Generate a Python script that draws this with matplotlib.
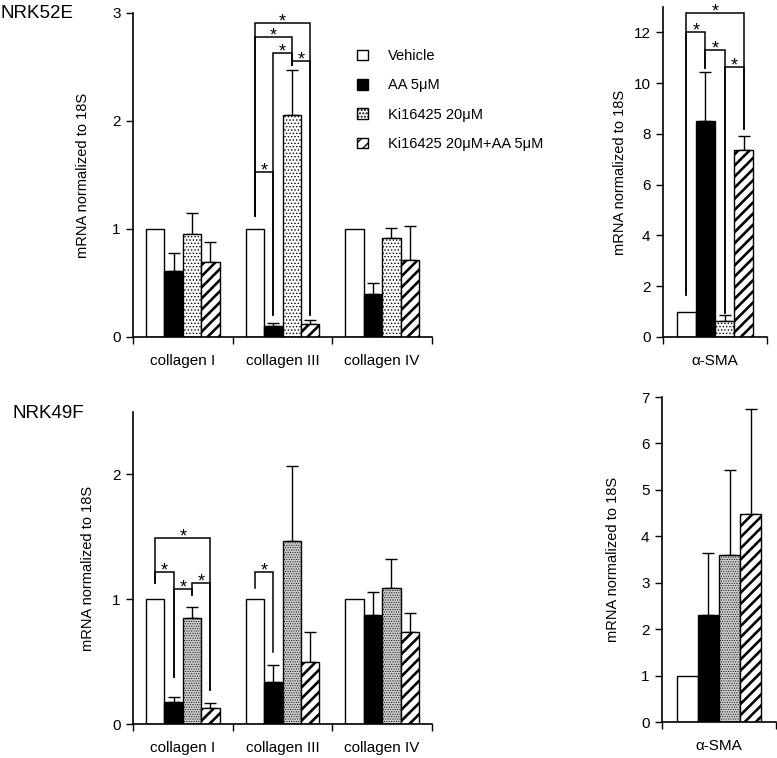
import matplotlib
matplotlib.use('Agg')
import matplotlib.pyplot as plt
import numpy as np
from matplotlib.patches import Patch

plt.rcParams['font.family'] = ['Liberation Sans', 'DejaVu Sans']

# ---------------- data ----------------
treatments = ['Vehicle', 'AA 5μM', 'Ki16425 20μM', 'Ki16425 20μM+AA 5μM']
collagen_cats = ['collagen I', 'collagen III', 'collagen IV']
sma_cats = ['α-SMA']

# NRK52E collagen: rows = treatments, cols = collagen I, III, IV
nrk52e_col_mean = [[1.00, 1.00, 1.00],
                   [0.61, 0.10, 0.40],
                   [0.95, 2.06, 0.92],
                   [0.69, 0.12, 0.71]]
nrk52e_col_err = [[0.00, 0.00, 0.00],
                  [0.17, 0.03, 0.10],
                  [0.20, 0.41, 0.09],
                  [0.19, 0.04, 0.32]]
# NRK52E alpha-SMA
nrk52e_sma_mean = [[1.00], [8.50], [0.65], [7.35]]
nrk52e_sma_err = [[0.00], [1.95], [0.20], [0.55]]

# NRK49F collagen
nrk49f_col_mean = [[1.00, 1.00, 1.00],
                   [0.18, 0.34, 0.87],
                   [0.85, 1.47, 1.09],
                   [0.13, 0.50, 0.74]]
nrk49f_col_err = [[0.00, 0.00, 0.00],
                  [0.04, 0.13, 0.19],
                  [0.09, 0.60, 0.23],
                  [0.04, 0.24, 0.15]]
# NRK49F alpha-SMA
nrk49f_sma_mean = [[1.00], [2.30], [3.60], [4.48]]
nrk49f_sma_err = [[0.00], [1.35], [1.83], [2.27]]

# significance brackets: (category, bar_i, bar_j, height, leg_i_bottom, leg_j_bottom)
sig_52e_col = [(1, 0, 1, 1.53, 1.12, 0.20),
               (1, 0, 2, 2.78, 1.12, 2.52),
               (1, 0, 3, 2.91, 1.12, 0.20),
               (1, 1, 2, 2.63, 0.20, 2.52),
               (1, 2, 3, 2.56, 2.52, 0.20)]
sig_52e_sma = [(0, 0, 3, 12.76, 1.65, 8.20),
               (0, 0, 1, 12.00, 1.65, 10.60),
               (0, 1, 2, 11.30, 10.60, 0.95),
               (0, 2, 3, 10.65, 0.95, 8.20)]
sig_49f_col = [(0, 0, 3, 1.49, 1.13, 0.27),
               (0, 0, 1, 1.22, 1.13, 0.38),
               (0, 1, 2, 1.08, 0.38, 1.03),
               (0, 2, 3, 1.13, 1.03, 0.27),
               (1, 0, 1, 1.22, 1.09, 0.58)]

# ---------------- styling ----------------
BW = 0.185
FS = 11


def styles(bottom):
    ki_face = '#cdcdcd' if bottom else 'white'
    ki_hatch = '.......' if bottom else '.....'
    ki_lw = 0.45 if bottom else 0.6
    return [dict(facecolor='white', hatch=None, hlw=1.0),
            dict(facecolor='black', hatch=None, hlw=1.0),
            dict(facecolor=ki_face, hatch=ki_hatch, hlw=ki_lw),
            dict(facecolor='white', hatch='///', hlw=1.9)]


def make_bar(ax, x, m, s):
    with plt.rc_context({'hatch.linewidth': s['hlw']}):
        bars = ax.bar(x, m, BW, color=s['facecolor'], edgecolor='black',
                      linewidth=1.0, hatch=s['hatch'], zorder=2)
    for b in bars:
        if hasattr(b, 'set_hatch_linewidth'):
            b.set_hatch_linewidth(s['hlw'])
    return bars


def draw_panel(ax, cats, means, errs, ylim, yticks, bottom, sigs, label_x):
    n = len(cats)
    centers = np.arange(n) + 0.5
    st = styles(bottom)
    for i in range(4):
        x = centers + (i - 1.5) * BW
        m = np.array(means[i], dtype=float)
        e = np.array(errs[i], dtype=float)
        make_bar(ax, x, m, st[i])
        mask = e > 0
        if mask.any():
            ax.errorbar(x[mask], m[mask], yerr=[np.zeros(mask.sum()), e[mask]],
                        fmt='none', ecolor='black', elinewidth=1.0,
                        capsize=4, capthick=1.0, zorder=1)
    for (c, bi, bj, h, li, lj) in sigs:
        xi = c + 0.5 + (bi - 1.5) * BW
        xj = c + 0.5 + (bj - 1.5) * BW
        ax.plot([xi, xi, xj, xj], [li, h, h, lj], color='black', lw=1.1,
                zorder=3, clip_on=False, solid_joinstyle='miter')
        ax.annotate('*', xy=((xi + xj) / 2, h), xytext=(0, -2.5),
                    textcoords='offset points', ha='center', va='baseline',
                    fontsize=13, annotation_clip=False)
    ax.set_xlim(0, n)
    ax.set_ylim(*ylim)
    ax.set_yticks(yticks)
    ax.set_yticklabels([str(t) for t in yticks], fontsize=FS)
    ax.set_xticks(np.arange(n + 1))
    ax.set_xticklabels([])
    ax.set_xticks(centers, minor=True)
    ax.set_xticklabels(cats, minor=True, fontsize=FS)
    ax.tick_params(axis='x', which='minor', length=0, pad=12)
    ax.tick_params(axis='both', which='major', direction='out', length=5,
                   width=1.0, color='black')
    ax.tick_params(axis='y', pad=4)
    for s in ['top', 'right']:
        ax.spines[s].set_visible(False)
    for s in ['left', 'bottom']:
        ax.spines[s].set_linewidth(1.2)
    ax.set_ylabel('mRNA normalized to 18S', fontsize=10.5)
    ax.yaxis.set_label_coords(label_x, 0.5)


fig = plt.figure(figsize=(7.77, 7.58), dpi=100)
W, H = 777.0, 758.0


def add_axes(x0, x1, ytop, ybot):
    return fig.add_axes([x0 / W, 1 - ybot / H, (x1 - x0) / W, (ybot - ytop) / H])


ax1 = add_axes(133, 432, 13, 337)
ax2 = add_axes(663, 767, 7, 337)
ax3 = add_axes(133, 432, 412, 724)
ax4 = add_axes(662, 776, 397, 722)

draw_panel(ax1, collagen_cats, nrk52e_col_mean, nrk52e_col_err, (0, 3), [0, 1, 2, 3],
           False, sig_52e_col, -0.144)
draw_panel(ax2, sma_cats, nrk52e_sma_mean, nrk52e_sma_err, (0, 13), [0, 2, 4, 6, 8, 10, 12],
           False, sig_52e_sma, -0.346)
draw_panel(ax3, collagen_cats, nrk49f_col_mean, nrk49f_col_err, (0, 2.5), [0, 1, 2],
           True, sig_49f_col, -0.127)
draw_panel(ax4, sma_cats, nrk49f_sma_mean, nrk49f_sma_err, (0, 7), [0, 1, 2, 3, 4, 5, 6, 7],
           True, [], -0.368)

# legend
handles = []
for s in styles(False):
    with plt.rc_context({'hatch.linewidth': s['hlw']}):
        p = Patch(facecolor=s['facecolor'], edgecolor='black', hatch=s['hatch'], linewidth=1.0)
    if hasattr(p, 'set_hatch_linewidth'):
        p.set_hatch_linewidth(s['hlw'])
    handles.append(p)
fig.legend(handles, treatments, loc='upper left', bbox_to_anchor=(357 / W, 1 - 49 / H),
           frameon=False, fontsize=10.5, handlelength=0.75, handleheight=0.75,
           labelspacing=1.05, handletextpad=1.4, borderpad=0, borderaxespad=0)

fig.text(0 / W, 1 - 13 / H, 'NRK52E', fontsize=13.5, ha='left', va='center')
fig.text(12 / W, 1 - 413 / H, 'NRK49F', fontsize=13.5, ha='left', va='center')

fig.savefig('out.png', dpi=100)
